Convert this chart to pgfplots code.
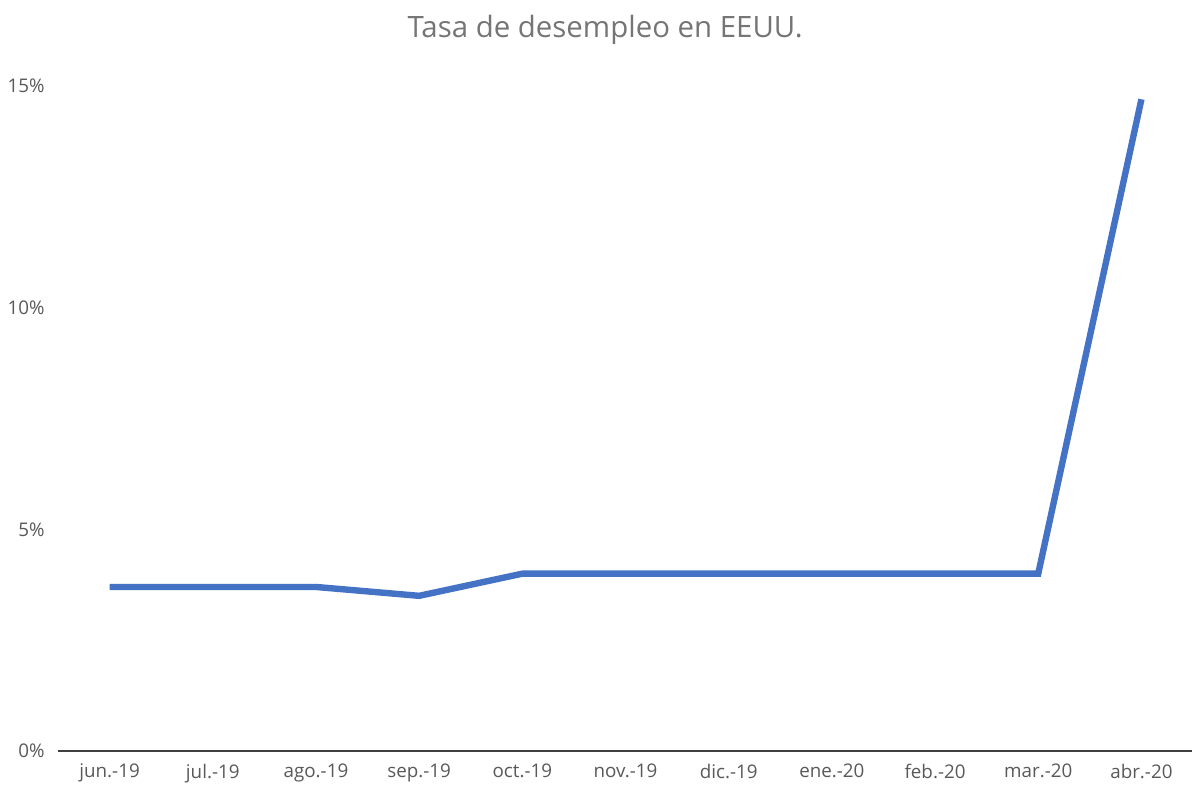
\documentclass[border=0pt]{standalone}
\usepackage{fontspec}
\setmainfont{Open Sans}
\usepackage{pgfplots}
\pgfplotsset{compat=1.18}
\definecolor{linecol}{HTML}{4472C4}
\definecolor{gridcol}{HTML}{D9D9D9}
\definecolor{axcol}{HTML}{404040}
\definecolor{labcol}{HTML}{595959}
\definecolor{titcol}{HTML}{757575}
\begin{document}
\begin{tikzpicture}
\begin{axis}[
  scale only axis,
  width=567.5pt, height=332.5pt,
  xmin=-0.5, xmax=10.5,
  ymin=0, ymax=15,
  xtick={0,...,10},
  xticklabels={jun.-19,jul.-19,ago.-19,sep.-19,oct.-19,nov.-19,dic.-19,ene.-20,feb.-20,mar.-20,abr.-20},
  ytick={0,5,10,15},
  yticklabels={0\%,5\%,10\%,15\%},
  axis x line*=bottom,
  axis y line=none,
  x axis line style={axcol, line width=1.1pt, -},
  ymajorgrids,
  grid style={gridcol, line width=0.9pt},
  major tick length=0pt,
  tick label style={font=\fontsize{9.4}{10}\selectfont, text=labcol},
  xticklabel style={yshift=-3pt},
  clip=false,
]
\addplot[linecol, line width=3.2pt, line cap=butt, line join=miter] coordinates {
(0,3.7) (1,3.7) (2,3.7) (3,3.5) (4,4.0) (5,4.0) (6,4.0) (7,4.0) (8,4.0) (9,4.0) (10,14.7)
};
\foreach \y/\t in {0/0\%,5/5\%,10/10\%,15/15\%}{
  \edef\temp{\noexpand\node[anchor=east, font=\noexpand\fontsize{9.4}{10}\noexpand\selectfont, text=labcol, inner sep=0pt] at (axis cs:-0.5,\y) [xshift=-6.5pt] {\t};}
  \temp
}
\node[font=\fontsize{14.7}{16}\selectfont, text=titcol] at (rel axis cs:0.482,1) [yshift=28pt] {Tasa de desempleo en EEUU.};
\end{axis}
\pgfresetboundingbox
\path[use as bounding box] (-29pt,-17.5pt) rectangle (567pt,375.5pt);
\end{tikzpicture}
\end{document}
